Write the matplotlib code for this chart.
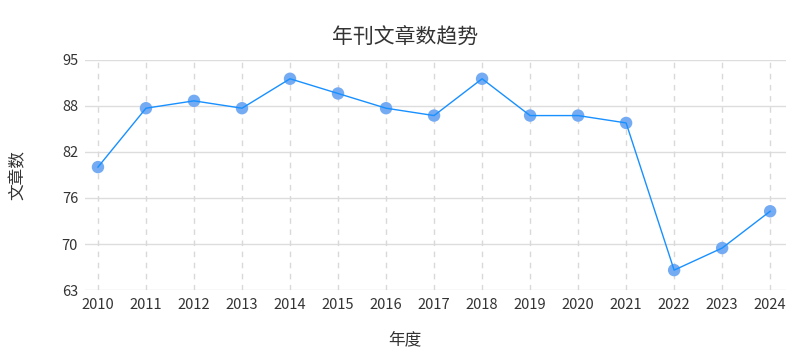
import matplotlib
matplotlib.use("Agg")
import matplotlib.pyplot as plt
import numpy as np

plt.rcParams['font.family'] = ['Noto Sans CJK SC', 'DejaVu Sans']

years = ['2010', '2011', '2012', '2013', '2014', '2015', '2016', '2017',
         '2018', '2019', '2020', '2021', '2022', '2023', '2024']
counts = [80, 88, 89, 88, 92, 90, 88, 87, 92, 87, 87, 86, 66, 69, 74]
ytick_labels = ['63', '70', '76', '82', '88', '95']
y_min, y_max = 63.3, 94.55

fig = plt.figure(figsize=(8.1, 3.6), dpi=100)
ax = fig.add_axes([85/810, 1 - 290/360, (786-85)/810, 230/360])

x = np.arange(len(years))
ax.plot(x, counts, color='#1890ff', linewidth=1.0, zorder=3)
ax.scatter(x, counts, s=80, color='#74abf2', zorder=2, edgecolors='none')

ax.set_xlim(-0.27, len(years) - 1 + 0.33)
ax.set_ylim(y_min, y_max)
yt = np.linspace(y_min, y_max, 6)
ax.set_yticks(yt)
ax.set_yticklabels(ytick_labels)
ax.set_xticks(x)
ax.set_xticklabels(years)

ax.tick_params(axis='both', length=0, labelsize=10.5, colors='#333333', pad=6)
ax.tick_params(axis='y', pad=5)
for s in ax.spines.values():
    s.set_visible(False)

for v in yt:
    ax.axhline(v, color='#dddddd', linewidth=1.0, zorder=0)
for xi in x:
    ax.axvline(xi, color='#d9d9d9', linewidth=1.0, linestyle=(0, (4, 4)), zorder=0)

fig.text(405/810, 1 - 38/360, '年刊文章数趋势', ha='center', va='center',
         fontsize=15, color='#333333')
fig.text(405/810, 1 - 340/360, '年度', ha='center', va='center',
         fontsize=12, color='#333333')
fig.text(18/810, 1 - 175/360, '文章数', ha='center', va='center',
         fontsize=12, color='#333333', rotation=90)

fig.savefig('out.png', dpi=100)
